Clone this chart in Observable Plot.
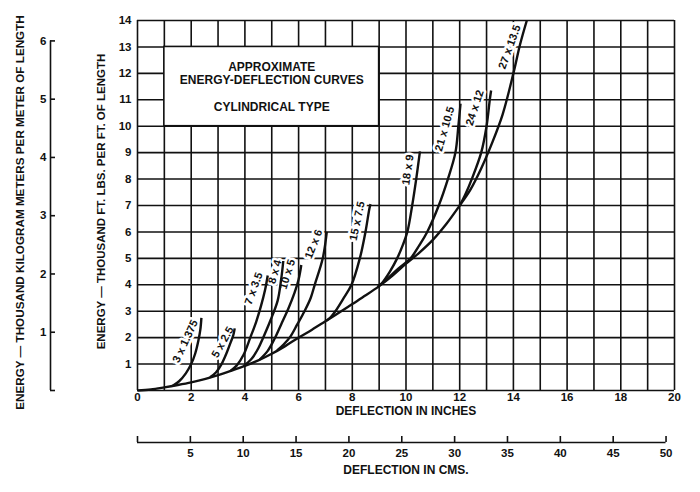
<!DOCTYPE html>
<html><head><meta charset="utf-8">
<script src="https://cdn.jsdelivr.net/npm/d3@7"></script>
<script src="https://cdn.jsdelivr.net/npm/@observablehq/plot@0.6"></script>
<style>
html,body{margin:0;padding:0;background:#fff;}
#chart svg{display:block;}
</style></head><body><div id="chart"></div>
<script>
// ---- unit conversions ----
const KG_TO_FTLB = 2.20462;   // 1 thousand kg·m/m = 2.2046 thousand ft·lb/ft
const CM_PER_INCH = 2.54;

// ---- axes / ticks ----
const inchTicks = [0, 2, 4, 6, 8, 10, 12, 14, 16, 18, 20];
const energyTicks = [1, 2, 3, 4, 5, 6, 7, 8, 9, 10, 11, 12, 13, 14];
const kgTicks = [0, 1, 2, 3, 4, 5, 6];
const cmTicks = [0, 5, 10, 15, 20, 25, 30, 35, 40, 45, 50];
const gridInches = [0,1,2,3,4,5,6,7,8,9,10,11,12,13,14,15,16,17,18,19,20];
const gridEnergy = [0,1,2,3,4,5,6,7,8,9,10,11,12,13,14];

// ---- title box (in inches / thousand ft-lb) ----
const boxX = [1, 9];
const boxY = [10, 13];
const titleLines = ["APPROXIMATE\nENERGY-DEFLECTION CURVES", "CYLINDRICAL TYPE"];
const titleY = [12.0, 10.75];

// ---- curves: [deflection in inches, energy thousand ft-lb per ft] ----
const envelope = [[0,0],[0.5,0.04],[1,0.12],[1.5,0.21],[2,0.31],[2.5,0.43],[3,0.58],[3.5,0.75],[4,0.93],[4.5,1.14],[5,1.39],[5.5,1.68],[6,2.0],[6.5,2.3],[7,2.62],[7.5,2.94],[8,3.27],[8.5,3.6],[9,3.95],[9.5,4.35],[10,4.8],[10.5,5.22],[11,5.7],[11.5,6.3],[12,7.0],[12.4,7.6],[12.8,8.4],[13.2,9.35],[13.6,10.45],[14,12.0],[14.25,13.1],[14.5,14.0]];
const c3x1375 = [[1.3,0.17],[1.55,0.35],[1.8,0.65],[2.0,1.0],[2.15,1.4],[2.27,1.9],[2.34,2.3],[2.38,2.75]];
const c5x25   = [[2.7,0.5],[2.92,0.68],[3.13,1.0],[3.33,1.45],[3.48,1.85],[3.57,2.1],[3.62,2.35]];
const c7x35   = [[3.45,0.73],[3.7,0.95],[3.95,1.35],[4.2,2.0],[4.42,2.6],[4.6,3.2],[4.75,3.8],[4.85,4.35]];
const c8x4    = [[3.95,0.92],[4.25,1.2],[4.5,1.6],[4.68,2.0],[4.95,2.65],[5.22,3.4],[5.35,4.2],[5.43,4.9]];
const c10x5   = [[4.55,1.17],[4.85,1.5],[5.1,1.95],[5.35,2.5],[5.62,3.1],[5.85,3.7],[6.0,4.2],[6.1,4.75]];
const c12x6   = [[5.2,1.52],[5.45,1.75],[5.7,2.05],[5.95,2.5],[6.22,3.0],[6.45,3.5],[6.6,4.0],[6.9,5.0],[7.05,6.0]];
const c15x75  = [[7.05,2.65],[7.2,2.78],[7.37,3.0],[7.65,3.45],[7.97,4.0],[8.28,5.0],[8.49,6.0],[8.64,6.9],[8.68,7.05]];
const c18x9   = [[8.95,3.92],[9.1,4.06],[9.4,4.5],[9.67,5.0],[9.88,5.5],[10.05,6.0],[10.23,7.0],[10.38,8.0],[10.52,9.05]];
const c21x105 = [[8.95,3.92],[9.3,4.22],[9.7,4.6],[10.17,5.0],[10.5,5.5],[10.79,6.0],[11.22,7.0],[11.56,8.0],[11.84,9.0],[11.95,10.0],[12.03,10.85]];
const c24x12  = [[12.0,7.0],[12.2,7.4],[12.45,8.0],[12.8,9.0],[13.0,10.0],[13.12,11.0],[13.17,11.35]];

const curveNames = ["envelope / 27 x 13.5","3 x 1.375","5 x 2.5","7 x 3.5","8 x 4","10 x 5","12 x 6","15 x 7.5","18 x 9","21 x 10.5","24 x 12"];
const curveData = [envelope,c3x1375,c5x25,c7x35,c8x4,c10x5,c12x6,c15x75,c18x9,c21x105,c24x12];

// ---- curve labels ----
const labelText  = ["3 x 1.375","5 x 2.5","7 x 3.5","8 x 4","10 x 5","12 x 6","15 x 7.5","18 x 9","21 x 10.5","24 x 12","27 x 13.5"];
const labelX     = [1.78, 3.17, 4.33, 5.12, 5.58, 6.56, 8.18, 10.07, 11.44, 12.56, 13.86];
const labelY     = [1.86, 1.83, 3.86, 4.49, 4.4, 5.54, 6.41, 8.35, 9.9, 10.7, 13.0];
const labelAngle = [-65, -61, -70, -74, -73, -68, -78, -82, -74, -72, -70];

// ---- build tables ----
const points = curveData.flatMap((pts, i) => pts.map(([x, y]) => ({name: curveNames[i], x, y})));
const labels = labelText.map((t, i) => ({text: t, x: labelX[i], y: labelY[i], angle: labelAngle[i]}));
const titles = titleLines.map((t, i) => ({text: t, y: titleY[i]}));

const INK = "#111";
const FONT = "'Liberation Sans', Arial, Helvetica, sans-serif";

const plot = Plot.plot({
  width: 700, height: 492,
  marginLeft: 137, marginRight: 26, marginTop: 20, marginBottom: 102,
  x: {domain: [0, 20]},
  y: {domain: [0, 14]},
  style: {fontFamily: FONT, fontSize: "11.5px", color: INK, background: "white", overflow: "visible"},
  marks: [
    // grid
    Plot.ruleX(gridInches, {x: d => d, y1: 0, y2: 14, stroke: INK, strokeWidth: 1.6}),
    Plot.ruleY(gridEnergy, {y: d => d, x1: 0, x2: 20, stroke: INK, strokeWidth: 1.6}),
    // title box
    Plot.rect([0], {x1: boxX[0], x2: boxX[1], y1: boxY[0], y2: boxY[1], fill: "white", stroke: INK, strokeWidth: 1.6}),
    Plot.text(titles, {x: (boxX[0] + boxX[1]) / 2, y: "y", text: "text", fontSize: 12, fontWeight: "bold", lineHeight: 1.1, fill: INK}),
    // curve labels with white backing (drawn before curves so the curves stay intact)
    Plot.text(labels, {x: "x", y: "y", text: "text", rotate: "angle", fontSize: 11, fontWeight: "bold", fill: INK, stroke: "white", strokeWidth: 5, paintOrder: "stroke"}),
    // curves
    Plot.line(points, {x: "x", y: "y", z: "name", curve: "catmull-rom", stroke: INK, strokeWidth: 2.4, strokeLinecap: "butt"}),
    // primary y axis (thousand ft-lb per ft)
    Plot.axisY({anchor: "left", ticks: energyTicks, tickSize: 0, tickPadding: 6, label: null, fontSize: 11.5, fontWeight: "bold", fill: INK}),
    Plot.text(["ENERGY — THOUSAND FT. LBS. PER FT. OF LENGTH"], {frameAnchor: "left", textAnchor: "middle", dx: -36, dy: -4, rotate: -90, fontSize: 11.5, fontWeight: "bold", fill: INK}),
    // secondary y axis (thousand kg-m per m)
    Plot.ruleX([0], {x: 0, y1: 0, y2: kgTicks[kgTicks.length - 1] * KG_TO_FTLB, dx: -87, stroke: INK, strokeWidth: 1.6}),
    Plot.axisY({anchor: "left", ticks: kgTicks.map(v => v * KG_TO_FTLB), tickFormat: d => { const v = Math.round(d / KG_TO_FTLB); return v === 0 ? "" : String(v); }, tickSize: 5, tickPadding: 4, dx: -82, strokeWidth: 1.6, stroke: INK, label: null, fontSize: 11.5, fontWeight: "bold", fill: INK}),
    Plot.text(["ENERGY — THOUSAND KILOGRAM METERS PER METER OF LENGTH"], {frameAnchor: "left", textAnchor: "middle", dx: -117, dy: 7, rotate: -90, fontSize: 11.7, fontWeight: "bold", fill: INK}),
    // primary x axis (inches)
    Plot.axisX({anchor: "bottom", ticks: inchTicks, tickSize: 0, tickPadding: 2, label: null, fontSize: 11.5, fontWeight: "bold", fill: INK}),
    Plot.text(["DEFLECTION IN INCHES"], {frameAnchor: "bottom", dy: 24, fontSize: 12, fontWeight: "bold", fill: INK}),
    // secondary x axis (cm)
    Plot.ruleY([0], {y: 0, x1: 0, x2: cmTicks[cmTicks.length - 1] / CM_PER_INCH, dy: 52, stroke: INK, strokeWidth: 1.6}),
    Plot.axisX({anchor: "bottom", ticks: cmTicks.map(c => c / CM_PER_INCH), tickFormat: d => { const v = Math.round(d * CM_PER_INCH); return v === 0 ? "" : String(v); }, tickSize: 6, tickPadding: 6, dy: 46, strokeWidth: 1.6, stroke: INK, label: null, fontSize: 11.5, fontWeight: "bold", fill: INK}),
    Plot.text(["DEFLECTION IN CMS."], {frameAnchor: "bottom", dy: 83, fontSize: 12, fontWeight: "bold", fill: INK})
  ]
});
document.getElementById("chart").append(plot);
</script>
</body></html>
